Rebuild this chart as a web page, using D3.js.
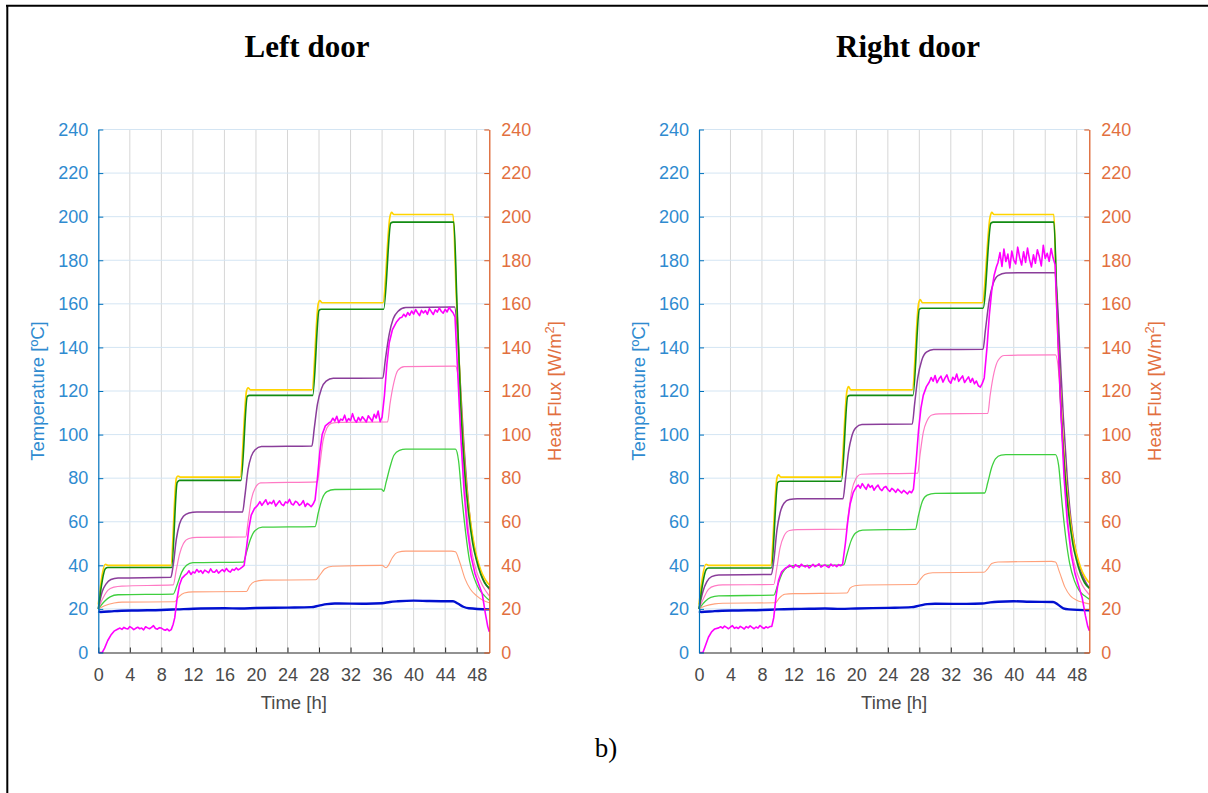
<!DOCTYPE html>
<html>
<head>
<meta charset="utf-8">
<script src="https://cdn.jsdelivr.net/npm/d3@7"></script>
<style>
  html, body { margin: 0; padding: 0; background: #fff; }
  svg { display: block; }
</style>
</head>
<body>
<svg id="fig" width="1208" height="793"></svg>
<script>
// ---- Axis ticks -----------------------------------------------------------
const timeTicks = [0, 4, 8, 12, 16, 20, 24, 28, 32, 36, 40, 44, 48];
const tempTicks = [0, 20, 40, 60, 80, 100, 120, 140, 160, 180, 200, 220, 240];
const fluxTicks = [0, 20, 40, 60, 80, 100, 120, 140, 160, 180, 200, 220, 240];
const panelTitles = ["Left door", "Right door"];

// ---- Left door: temperatures [ºC] vs time [h] -----------------------------
const leftYellow = [[0,22],[0.9,40.5],[1.2,40],[9.2,40],[9.9,80],[10.1,81],[10.4,80.5],[18.0,80.5],[18.8,120],[19.0,121.5],[19.3,120.5],[27.1,120.5],[27.9,160],[28.1,161.5],[28.4,160.5],[36.1,160.5],[37.0,200],[37.2,202],[37.5,201],[45.0,201],[45.4,165],[46.0,115],[46.5,85],[47.0,66],[47.5,53],[48.0,44],[48.5,38],[49.0,34],[49.6,31]];
const leftDarkGreen = [[0,20],[0.9,38.5],[1.2,39],[9.3,39],[10.0,78],[10.3,79],[18.1,79],[18.9,117.5],[19.2,118],[27.2,118],[28.0,157],[28.3,157.5],[36.2,157.5],[37.1,197],[37.4,197.5],[45.1,197.5],[45.5,160],[46.0,112],[46.5,82],[47.0,63],[47.5,50],[48.0,42],[48.5,36],[49.0,32],[49.6,29.5]];
const leftPurple = [[0,20],[0.5,28],[1.0,31.5],[1.6,33.5],[2.5,34.2],[9.2,34.5],[9.5,40],[9.9,52],[10.3,59],[10.8,62.5],[11.5,64],[12.5,64.5],[18.3,64.5],[18.6,72],[19.0,84],[19.4,90],[19.9,93],[20.7,94.5],[27.1,94.8],[27.4,103],[27.8,114],[28.3,121],[28.9,124.5],[29.8,125.8],[36.1,126],[36.4,134],[36.9,146],[37.4,153],[38.0,156.5],[39.0,158.3],[45.2,158.5],[45.5,150],[45.9,125],[46.3,100],[46.8,75],[47.3,57],[47.8,46],[48.3,39],[48.9,33],[49.6,29]];
const leftPink = [[0,20],[0.6,25],[1.2,28.5],[2,30],[3,30.5],[9.5,31],[9.9,38],[10.3,45],[10.8,50],[11.5,52.3],[12.5,52.8],[18.7,53],[19.0,60],[19.4,70],[19.9,75.5],[20.6,77.8],[27.8,78.3],[28.1,86],[28.5,97],[29.0,103],[29.6,105.2],[30.5,105.6],[36.7,105.8],[37.0,114],[37.5,124],[38.0,129.5],[38.8,131.2],[45.3,131.4],[45.7,125],[46.1,100],[46.5,75],[47.0,55],[47.5,44],[48.0,37],[48.7,31],[49.6,26]];
const leftLightGreen = [[0,20],[0.8,23.5],[1.5,25.5],[2.5,26.5],[9.5,26.8],[10.0,31],[10.6,37],[11.2,40],[12.0,41.2],[18.4,41.5],[18.8,46],[19.3,52],[19.9,56],[20.8,57.5],[27.5,57.8],[27.9,64],[28.4,70.5],[29.0,73.8],[30,74.8],[35.9,75],[36.2,74],[36.5,78],[37.0,85],[37.5,90.5],[38.2,92.8],[39,93.3],[45.3,93.3],[45.7,88],[46.1,72],[46.6,55],[47.1,42],[47.7,34],[48.3,29],[49.0,26],[49.6,24]];
const leftSalmon = [[0,20],[0.8,21.5],[2,22.7],[3,23.1],[9.7,23.3],[10.2,25.5],[10.9,27.3],[12,27.8],[18.8,28],[19.2,30.5],[19.8,32.5],[21,33.2],[27.6,33.4],[28.0,35],[28.7,38.3],[29.7,39.6],[36.0,40],[36.5,38.9],[36.8,40],[37.3,43.5],[38.0,46],[39,46.5],[44.8,46.5],[45.3,46.2],[45.8,42],[46.5,34],[47.2,29],[48.0,26],[48.8,24],[49.6,22.8]];
const leftBlue = [[0,19],[0.3,18.6],[2,19],[5,19.3],[8,19.5],[10,19.8],[13,20.2],[16,20.3],[18,20.2],[20,20.4],[24,20.6],[27,20.8],[28,21.5],[29,22.2],[30,22.5],[34,22.4],[36,22.6],[37,23.2],[38,23.5],[40,23.8],[42,23.6],[45,23.5],[45.6,22.5],[46.3,21],[47,20.3],[49.6,19.8]];

// ---- Left door: heat flux [W/m²] vs time [h] ------------------------------
const leftFlux = [
  [0,0],[0.5,0],[0.8,2],[1.2,5.5],[1.6,8],[2.0,9.8],[2.5,10.8],
  [2.75,11.2],[3.0,10.6],[3.25,11.5],[3.5,11],[3.75,10.8],[4.0,11.9],[4.25,11.3],[4.5,10.5],[4.75,11.1],[5.0,11.6],[5.25,10.9],[5.5,11.2],[5.75,10.4],[6.0,11.8],[6.25,11.3],[6.5,10.9],[6.75,11.5],[7.0,12.3],[7.25,11],[7.5,10.7],[7.75,11.4],[8.0,11.2],[8.25,10.6],[8.5,10.2],[8.75,10.8],[9.0,9.9],[9.25,10.5],
  [9.5,13],[9.7,16],[10.0,25],[10.3,31],[10.6,34],[11.0,35.5],
  [11.25,36.2],[11.5,37.5],[11.75,35.8],[12.0,37],[12.25,36.5],[12.5,38.1],[12.75,36.9],[13.0,37.6],[13.25,36.3],[13.5,37.8],[13.75,37.2],[14.0,36.6],[14.25,38.4],[14.5,37],[14.75,36.8],[15.0,37.9],[15.25,36.4],[15.5,37.3],[15.75,38],[16.0,37.1],[16.25,38.6],[16.5,37.4],[16.75,36.9],[17.0,38.2],[17.25,37.7],[17.5,38.8],[17.75,37.9],[18.0,38.5],[18.25,39.2],
  [18.5,40],[18.8,48],[19.1,57],[19.4,63],[19.8,66],[20.2,67.5],
  [20.5,69.2],[20.75,67.5],[21.0,68.8],[21.25,70.1],[21.5,67.9],[21.75,69],[22.0,68.3],[22.25,69.8],[22.5,67.2],[22.75,68.5],[23.0,69.6],[23.25,68],[23.5,67.4],[23.75,69.1],[24.0,68.6],[24.25,70.3],[24.5,68.2],[24.75,67.7],[25.0,69.4],[25.25,68.9],[25.5,67.5],[25.75,68.2],[26.0,69.7],[26.25,67],[26.5,68.4],[26.75,67.8],[27.0,66.9],[27.25,68.1],
  [27.5,70],[27.8,80],[28.1,92],[28.4,100],[28.8,104],[29.3,105.5],
  [29.5,105.8],[29.75,107.5],[30.0,106.2],[30.25,108.4],[30.5,105.5],[30.75,107.1],[31.0,106.6],[31.25,108.9],[31.5,105.9],[31.75,107.3],[32.0,106.4],[32.25,109.6],[32.5,106.8],[32.75,105.7],[33.0,107.9],[33.25,106.3],[33.5,108.2],[33.75,107],[34.0,105.8],[34.25,108.6],[34.5,107.4],[34.75,106.1],[35.0,109.3],[35.25,107.6],[35.5,110.8],[35.75,105.9],
  [36.0,108],[36.3,118],[36.6,132],[36.9,142],[37.3,148],[37.8,151.5],[38.25,153.5],
  [38.5,153.8],[38.75,155.2],[39.0,154.1],[39.25,156],[39.5,154.8],[39.75,156.7],[40.0,155.3],[40.25,157.4],[40.5,155.9],[40.75,154.6],[41.0,157],[41.25,155.8],[41.5,156.9],[41.75,155.2],[42.0,157.8],[42.25,156.4],[42.5,155.1],[42.75,157.3],[43.0,156.2],[43.25,158.1],[43.5,156.6],[43.75,155.7],[44.0,157.5],[44.25,156.3],[44.5,158.4],[44.75,157],[45.0,155.9],
  [45.25,154],[45.6,128],[46.0,98],[46.4,74],[46.8,57],[47.3,44],[47.8,36],[48.3,31],[48.7,27],[49.1,18],[49.4,12],[49.6,9.5]
];

// ---- Right door: temperatures [ºC] vs time [h] ----------------------------
const rightYellow = [[0,22],[0.9,40.5],[1.2,40],[9.1,40],[9.9,80],[10.1,81.5],[10.4,80.5],[18.0,80.5],[18.8,120],[19.0,122],[19.3,120.5],[27.1,120.5],[27.9,160],[28.1,162],[28.4,160.5],[36.0,160.5],[37.0,200],[37.2,202],[37.5,201],[45.1,201],[45.4,165],[46.0,115],[46.5,85],[47.0,66],[47.5,53],[48.0,45],[48.5,39],[49.0,35],[49.6,32]];
const rightDarkGreen = [[0,20],[0.9,38],[1.2,38.8],[9.2,38.8],[10.0,78],[10.3,78.6],[18.1,78.6],[18.9,117.5],[19.2,118],[27.2,118],[28.0,157.5],[28.3,158],[36.1,158],[37.1,197],[37.4,197.5],[45.1,197.5],[45.5,160],[46.0,112],[46.5,82],[47.0,63],[47.5,50],[48.0,42],[48.5,36],[49.0,32],[49.6,29.5]];
const rightPurple = [[0,20],[0.5,28],[1.0,32.5],[1.6,34.8],[2.5,35.6],[9.2,35.8],[9.5,42],[9.9,56],[10.3,64],[10.8,68.5],[11.5,70.2],[12.5,70.5],[18.3,70.5],[18.6,79],[19.0,92],[19.4,99],[19.9,103],[20.7,104.6],[27.1,104.8],[27.4,114],[27.8,126],[28.3,134],[28.9,137.8],[29.8,139],[36.1,139.2],[36.4,148],[36.9,162],[37.4,169.5],[38.0,173],[39.0,174.2],[45.2,174.3],[45.5,164],[45.9,136],[46.3,108],[46.8,80],[47.3,60],[47.8,48],[48.3,40],[48.9,34],[49.6,29.5]];
const rightPink = [[0,20],[0.6,25],[1.2,29],[2,30.6],[3,31],[9.5,31.2],[9.9,39],[10.3,48],[10.8,53.5],[11.5,56],[12.5,56.4],[18.7,56.6],[19.0,64],[19.4,74],[19.9,79.5],[20.6,81.8],[27.8,82.3],[28.1,91],[28.5,101],[29.0,106.5],[29.6,109],[30.5,109.5],[36.7,109.7],[37.0,118],[37.5,128.5],[38.0,134],[38.8,136.3],[45.3,136.6],[45.7,129],[46.1,103],[46.5,77],[47.0,56],[47.5,44],[48.0,37],[48.7,31],[49.6,26.5]];
const rightLightGreen = [[0,20],[0.8,23.5],[1.5,25.3],[2.5,26],[9.5,26.3],[10.0,31],[10.6,36.5],[11.2,39],[12.0,39.8],[18.4,40.2],[18.8,45],[19.3,51],[19.9,54.8],[20.8,56.2],[27.5,56.5],[27.9,63],[28.4,69.5],[29.0,72.2],[30,73],[36.3,73.2],[36.7,78],[37.2,85],[37.7,89],[38.4,90.6],[39,90.8],[45.3,90.8],[45.7,86],[46.1,70],[46.6,53],[47.1,41],[47.7,33],[48.3,28.5],[49.0,26],[49.6,24.5]];
const rightSalmon = [[0,20],[0.8,21.3],[2,22.3],[3,22.6],[9.7,22.8],[10.2,25],[10.9,26.7],[12,27],[18.8,27.3],[19.2,29.5],[19.8,30.6],[21,31],[27.6,31.2],[28.0,33],[28.7,35.8],[29.7,36.6],[36.2,36.8],[36.6,38],[37.2,40.8],[38.0,41.5],[44.8,41.8],[45.3,41.5],[45.8,37],[46.5,30],[47.2,26],[48.0,24],[48.8,23],[49.6,22.3]];
const rightBlue = [[0,19],[0.3,18.6],[2,19],[5,19.3],[8,19.5],[10,19.8],[13,20],[16,20.2],[18,20],[20,20.2],[24,20.5],[27,20.8],[28,21.5],[29,22.2],[30,22.4],[34,22.3],[36,22.5],[37,23],[38,23.3],[40,23.5],[42,23.3],[45,23.2],[45.6,22],[46.3,20.3],[47,19.8],[49.6,19.4]];

// ---- Right door: heat flux [W/m²] vs time [h] -----------------------------
const rightFlux = [
  [0,0],[0.5,0],[0.8,3],[1.2,7],[1.6,9.5],[2.0,10.8],[2.5,11.3],
  [2.75,11.8],[3.0,11.2],[3.25,12.1],[3.5,11.5],[3.75,10.9],[4.0,11.7],[4.25,12.3],[4.5,11.1],[4.75,11.6],[5.0,11],[5.25,12],[5.5,11.4],[5.75,10.8],[6.0,11.9],[6.25,11.3],[6.5,12.2],[6.75,11.5],[7.0,10.9],[7.25,11.7],[7.5,11.2],[7.75,12.4],[8.0,11.6],[8.25,11],[8.5,11.8],[8.75,11.3],[9.0,11.9],
  [9.25,12],[9.5,16],[9.8,26],[10.1,33],[10.5,37],[11.0,38.8],
  [11.25,39.2],[11.5,40.1],[11.75,39.5],[12.0,38.9],[12.25,40.3],[12.5,39.7],[12.75,39.1],[13.0,40.5],[13.25,39.8],[13.5,39.3],[13.75,40],[14.0,38.8],[14.25,39.6],[14.5,40.4],[14.75,39.4],[15.0,39.9],[15.25,40.7],[15.5,39.2],[15.75,39.8],[16.0,40.2],[16.25,39.5],[16.5,39],[16.75,40.6],[17.0,39.7],[17.25,40.1],[17.5,39.4],[17.75,40.3],[18.0,39.8],
  [18.25,40.5],[18.6,50],[18.9,60],[19.2,68],[19.6,73.5],[20.0,76],
  [20.25,76.8],[20.5,75.4],[20.75,77.5],[21.0,76.1],[21.25,74.9],[21.5,77.2],[21.75,75.8],[22.0,76.6],[22.25,74.5],[22.5,75.9],[22.75,76.8],[23.0,75.1],[23.25,74.3],[23.5,75.7],[23.75,76.2],[24.0,74.8],[24.25,73.9],[24.5,75.3],[24.75,74.6],[25.0,73.5],[25.25,75],[25.5,74.1],[25.75,73.2],[26.0,74.4],[26.25,73.6],[26.5,72.8],[26.75,74],[27.0,73.3],
  [27.25,75],[27.6,88],[27.9,102],[28.2,112],[28.5,118],[28.9,122],[29.25,124],
  [29.5,126.2],[29.75,124.5],[30.0,127.1],[30.25,123.8],[30.5,125.6],[30.75,126.8],[31.0,124.1],[31.25,125.9],[31.5,127.4],[31.75,124.7],[32.0,123.6],[32.25,126.3],[32.5,125.1],[32.75,127.8],[33.0,124.4],[33.25,125.7],[33.5,126.9],[33.75,123.9],[34.0,125.2],[34.25,126.5],[34.5,124],[34.75,125.8],[35.0,123.3],[35.25,124.6],[35.5,122.4],[35.75,121.8],[36.0,123.5],
  [36.25,126],[36.6,140],[36.9,155],[37.2,166],[37.5,173],[37.8,177],[38.0,179],
  [38.25,183.5],[38.5,177.2],[38.75,185.1],[39.0,179.4],[39.25,182.8],[39.5,176.5],[39.75,184.2],[40.0,180.1],[40.25,178.3],[40.5,186],[40.75,181.2],[41.0,177.8],[41.25,183.9],[41.5,179],[41.75,185.6],[42.0,180.4],[42.25,176.9],[42.5,182.5],[42.75,178.6],[43.0,184.8],[43.25,181.7],[43.5,177.4],[43.75,186.9],[44.0,180.8],[44.25,183.2],[44.5,179.5],[44.75,185.4],[45.0,181],
  [45.25,178],[45.6,145],[46.0,110],[46.4,80],[46.8,60],[47.3,45],[47.8,36],[48.3,30],[48.7,25],[49.1,17],[49.4,12],[49.6,10]
];

// ---- Series styling (draw order: first = bottom) ---------------------------
const seriesStyle = [
  { key: "salmon",     color: "#ffa07a", width: 1.1 },
  { key: "lightGreen", color: "#3fcf3f", width: 1.3 },
  { key: "pink",       color: "#ff7ac4", width: 1.2 },
  { key: "purple",     color: "#8a3d9a", width: 1.5 },
  { key: "yellow",     color: "#ffd400", width: 1.7 },
  { key: "darkGreen",  color: "#128c12", width: 1.6 },
  { key: "blue",       color: "#0010d0", width: 2.4 }
];

const panels = [
  { title: panelTitles[0], x0: 98.3, x1: 489.3, titleX: 307,
    temps: { salmon: leftSalmon, lightGreen: leftLightGreen, pink: leftPink, purple: leftPurple,
             yellow: leftYellow, darkGreen: leftDarkGreen, blue: leftBlue },
    flux: leftFlux },
  { title: panelTitles[1], x0: 699, x1: 1089.3, titleX: 908,
    temps: { salmon: rightSalmon, lightGreen: rightLightGreen, pink: rightPink, purple: rightPurple,
             yellow: rightYellow, darkGreen: rightDarkGreen, blue: rightBlue },
    flux: rightFlux }
];

const svg = d3.select("#fig");
const Y_TOP = 129.5, Y_BOT = 652.5;
const tempColor = "#0072bd", tempText = "#2f8bd0";
const fluxColor = "#d95319", fluxText = "#e2703f";
const sans = "'Liberation Sans', Arial, sans-serif";
const serif = "'Liberation Serif', 'Times New Roman', serif";

// page frame
svg.append("line").attr("x1", 6).attr("x2", 1208).attr("y1", 5.7).attr("y2", 5.7)
  .attr("stroke", "#000").attr("stroke-width", 2);
svg.append("line").attr("x1", 7.3).attr("x2", 7.3).attr("y1", 5).attr("y2", 793)
  .attr("stroke", "#000").attr("stroke-width", 2);

panels.forEach(p => {
  const x = d3.scaleLinear().domain([0, 49.6]).range([p.x0, p.x1]);
  const yT = d3.scaleLinear().domain([0, 240]).range([Y_BOT, Y_TOP]);
  const yF = d3.scaleLinear().domain([0, 240]).range([Y_BOT, Y_TOP]);
  const g = svg.append("g");

  // panel heading
  svg.append("text").attr("x", p.titleX).attr("y", 57)
    .attr("text-anchor", "middle").attr("font-family", serif)
    .attr("font-weight", "bold").attr("font-size", 31).attr("fill", "#000")
    .text(p.title);

  // grid
  g.append("g").selectAll("line").data(timeTicks.filter(t => t > 0)).join("line")
    .attr("x1", d => x(d)).attr("x2", d => x(d))
    .attr("y1", Y_TOP).attr("y2", Y_BOT)
    .attr("stroke", "#d6d6d6").attr("stroke-width", 1);
  g.append("g").selectAll("line").data(tempTicks.filter(t => t > 0)).join("line")
    .attr("x1", p.x0).attr("x2", p.x1)
    .attr("y1", d => yT(d)).attr("y2", d => yT(d))
    .attr("stroke", "#d4e5f3").attr("stroke-width", 1);

  // temperature curves
  const lineT = d3.line().x(d => x(d[0])).y(d => yT(d[1])).curve(d3.curveMonotoneX);
  seriesStyle.forEach(s => {
    g.append("path").datum(p.temps[s.key])
      .attr("d", lineT).attr("fill", "none")
      .attr("stroke", s.color).attr("stroke-width", s.width)
      .attr("stroke-linejoin", "round");
  });

  // heat flux curve (right axis)
  const lineF = d3.line().x(d => x(d[0])).y(d => yF(d[1]));
  g.append("path").datum(p.flux)
    .attr("d", lineF).attr("fill", "none")
    .attr("stroke", "#ff00ff").attr("stroke-width", 1.6)
    .attr("stroke-linejoin", "round");

  // bottom axis
  const ax = g.append("g").attr("transform", `translate(0,${Y_BOT})`)
    .call(d3.axisBottom(x).tickValues(timeTicks).tickSize(-5).tickSizeOuter(0).tickPadding(16));
  ax.select(".domain").attr("stroke", "#262626").attr("stroke-width", 1.2);
  ax.selectAll(".tick line").attr("stroke", "#262626");
  ax.selectAll(".tick text").attr("font-family", sans).attr("font-size", 18).attr("fill", "#4a4a4a");

  // left temperature axis
  const al = g.append("g").attr("transform", `translate(${p.x0},0)`)
    .call(d3.axisLeft(yT).tickValues(tempTicks).tickSize(-5).tickSizeOuter(0).tickPadding(10));
  al.select(".domain").attr("stroke", tempColor).attr("stroke-width", 1.2);
  al.selectAll(".tick line").attr("stroke", tempColor);
  al.selectAll(".tick text").attr("font-family", sans).attr("font-size", 18).attr("fill", tempText);

  // right heat-flux axis
  const ar = g.append("g").attr("transform", `translate(${p.x1},0)`)
    .call(d3.axisRight(yF).tickValues(fluxTicks).tickSize(-5).tickSizeOuter(0).tickPadding(12));
  ar.select(".domain").attr("stroke", fluxColor).attr("stroke-width", 1.2);
  ar.selectAll(".tick line").attr("stroke", fluxColor);
  ar.selectAll(".tick text").attr("font-family", sans).attr("font-size", 18).attr("fill", fluxText);

  // axis titles
  const midY = (Y_TOP + Y_BOT) / 2;
  svg.append("text")
    .attr("transform", `translate(${p.x0 - 54},${midY}) rotate(-90)`)
    .attr("text-anchor", "middle").attr("font-family", sans).attr("font-size", 18.5)
    .attr("fill", tempText).text("Temperature [ºC]");
  const hf = svg.append("text")
    .attr("transform", `translate(${p.x1 + 72},${midY}) rotate(-90)`)
    .attr("text-anchor", "middle").attr("font-family", sans).attr("font-size", 18.5)
    .attr("fill", fluxText);
  hf.append("tspan").text("Heat Flux [W/m");
  hf.append("tspan").attr("dy", -7).attr("font-size", 13).text("2");
  hf.append("tspan").attr("dy", 7).text("]");

  svg.append("text").attr("x", (p.x0 + p.x1) / 2).attr("y", 709)
    .attr("text-anchor", "middle").attr("font-family", sans).attr("font-size", 18.5)
    .attr("fill", "#4a4a4a").text("Time [h]");
});

// figure sub-label
svg.append("text").attr("x", 606).attr("y", 757)
  .attr("text-anchor", "middle").attr("font-family", serif).attr("font-size", 27)
  .attr("fill", "#000").text("b)");
</script>
</body>
</html>
